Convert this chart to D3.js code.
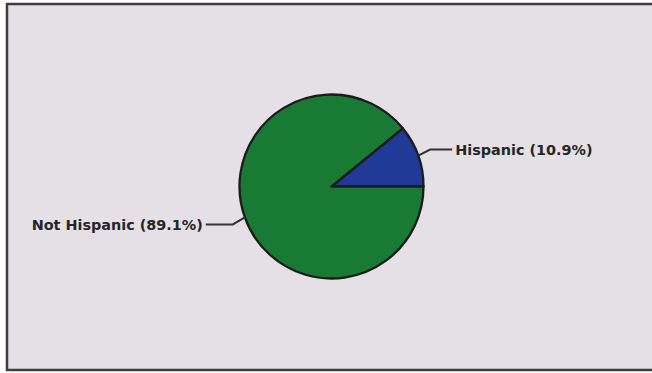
<!DOCTYPE html>
<html>
<head>
<meta charset="utf-8">
<script src="https://cdn.jsdelivr.net/npm/d3@7/dist/d3.min.js"></script>
<style>
  html, body { margin: 0; padding: 0; background: #ffffff; }
  svg { display: block; }
</style>
</head>
<body>
<svg id="chart" width="652" height="373"></svg>
<script>
// Ethnicity breakdown (percent)
const categories = ["Hispanic", "Not Hispanic"];
const shares = [10.9, 89.1];
const labels = ["Hispanic (10.9%)", "Not Hispanic (89.1%)"];
const colors = ["#1f3a97", "#197a34"];

const svg = d3.select("#chart");
const W = 652, H = 373;

// Panel background and frame
svg.append("rect")
  .attr("x", 7).attr("y", 4)
  .attr("width", W + 10).attr("height", 366)
  .attr("fill", "#e4e0e5")
  .attr("stroke", "#3e3e3e")
  .attr("stroke-width", 2.5);

const cx = 331.5, cy = 186.5, r = 92;
const g = svg.append("g").attr("transform", `translate(${cx},${cy})`);

// First slice ends at 3 o'clock, drawn counter-clockwise from there
const total = d3.sum(shares);
const start = Math.PI / 2 - (shares[0] / total) * 2 * Math.PI;
const pie = d3.pie().sort(null).startAngle(start).endAngle(start + 2 * Math.PI);
const arcs = pie(shares);
const arc = d3.arc().innerRadius(0).outerRadius(r);

g.selectAll("path.slice")
  .data(arcs)
  .join("path")
  .attr("class", "slice")
  .attr("d", arc)
  .attr("fill", (d, i) => colors[i])
  .attr("stroke", "#1b1b1b")
  .attr("stroke-width", 2.3)
  .attr("stroke-linejoin", "round");

// Leader lines and labels
arcs.forEach((d, i) => {
  const mid = (d.startAngle + d.endAngle) / 2;
  const px = Math.sin(mid) * r, py = -Math.cos(mid) * r;
  const side = px >= 0 ? 1 : -1;
  const ex = px + side * 12, ey = py + (py < 0 ? -6 : 7);
  const tx = ex + side * (side > 0 ? 22 : 27);
  g.append("path")
    .attr("d", `M${px},${py}L${ex},${ey}L${tx},${ey}`)
    .attr("fill", "none")
    .attr("stroke", "#333")
    .attr("stroke-width", 2);
  g.append("text")
    .attr("x", tx + side * 3)
    .attr("y", ey)
    .attr("dy", "0.36em")
    .attr("text-anchor", side > 0 ? "start" : "end")
    .attr("font-family", "DejaVu Sans, Verdana, sans-serif")
    .attr("font-weight", "bold")
    .attr("font-size", "14.4px")
    .attr("fill", "#262626")
    .text(labels[i]);
});
</script>
</body>
</html>
